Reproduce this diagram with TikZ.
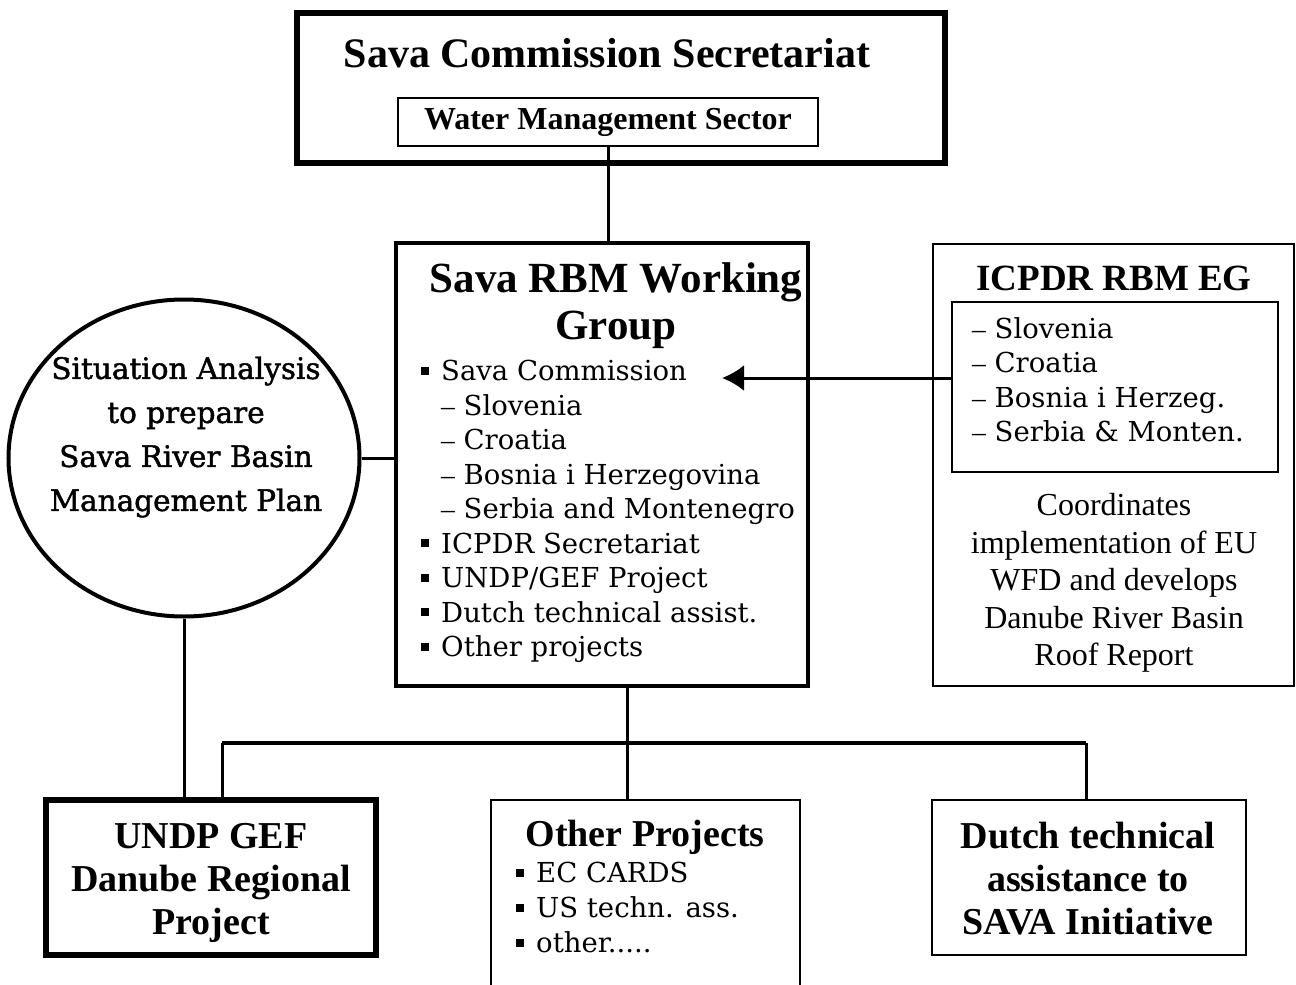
\documentclass[tikz,border=0pt]{standalone}
\usepackage{fontspec}
\setmainfont{Liberation Serif}
\newfontfamily\listfont{DejaVu Serif}
\newfontfamily\circlefont[FakeBold=1.5]{DejaVu Serif}
\usetikzlibrary{shapes,arrows.meta}
\tikzstyle{block} = [draw, rectangle, inner sep=0pt]
\tikzstyle{heavy} = [block, line width=6pt]
\tikzstyle{medium} = [block, line width=4pt]
\tikzstyle{light} = [block, line width=2pt]
\tikzstyle{line} = [draw, line width=3pt]
\tikzstyle{title} = [inner sep=0pt, align=center, font=\bfseries\fontsize{38}{43}\selectfont]
\tikzstyle{list} = [inner sep=0pt, align=left, font=\listfont\fontsize{27.5}{34.5}\selectfont]
\newcommand{\sqbullet}{\raisebox{6pt}{\rule{8pt}{8pt}}\hspace{12pt}}
\newcommand{\dashitem}{\hspace*{20pt}{\rmfamily –}~}

\begin{document}
\begin{tikzpicture}[x=1pt, y=-1pt, >={Latex[length=22pt,width=26pt]}]
          \useasboundingbox (0,0) rectangle (1296,985);
          \clip (0,0) rectangle (1296,985);

          % Top: commission secretariat
          \node [heavy, minimum width=648, minimum height=150] (secretariat) at (621,88) {};
          \node [title, font=\bfseries\fontsize{42}{48}\selectfont] (sectitle) at (607,53) {Sava Commission Secretariat};
          \node [light, minimum width=420, minimum height=48, font=\bfseries\fontsize{32}{36}\selectfont] (wms) at (608,122) {Water Management Sector};

          % Working group
          \node [medium, minimum width=412, minimum height=443] (wg) at (602,464.5) {};
          \node [title, font=\bfseries\fontsize{43}{47}\selectfont] (wgtitle) at (616,306) {Sava RBM Working\\Group};
          \node [list, anchor=north west] (wglist) at (421,360) {\sqbullet Sava Commission\\
            \dashitem Slovenia\\
            \dashitem Croatia\\
            \dashitem Bosnia i Herzegovina\\
            \dashitem Serbia and Montenegro\\
            \sqbullet ICPDR Secretariat\\
            \sqbullet UNDP/GEF Project\\
            \sqbullet Dutch technical assist.\\
            \sqbullet Other projects};

          % Situation analysis
          \node [draw, ellipse, line width=4pt, minimum width=351, minimum height=317] (analysis) at (184,458) {};
          \node [list, align=center, font=\circlefont\fontsize{29.5}{44}\selectfont] (analysistext) at (186,437) {Situation Analysis\\to prepare\\Sava River Basin\\Management Plan};

          % ICPDR expert group
          \node [light, minimum width=361, minimum height=442] (icpdr) at (1113.5,465) {};
          \node [title, font=\bfseries\fontsize{37}{42}\selectfont] (icpdrtitle) at (1114,278) {ICPDR RBM EG};
          \node [light, minimum width=326, minimum height=170] (icpdrlist) at (1115,387) {};
          \node [list, anchor=north west] (icpdrnames) at (972,317) {{\rmfamily –}~Slovenia\\{\rmfamily –}~Croatia\\{\rmfamily –}~Bosnia i Herzeg.\\{\rmfamily –}~Serbia \& Monten.};
          \node [inner sep=0pt, align=center, font=\fontsize{32}{37.5}\selectfont] (icpdrnote) at (1114,583) {Coordinates\\implementation of EU\\WFD and develops\\Danube River Basin\\Roof Report};

          % Projects
          \node [heavy, minimum width=330, minimum height=155] (undp) at (211,877.5) {};
          \node [title] (undptext) at (211,883) {UNDP GEF\\Danube Regional\\Project};
          \node [light, minimum width=309, minimum height=200] (other) at (645.5,900) {};
          \node [title] (othertitle) at (645,837) {Other Projects};
          \node [list, anchor=north west, font=\listfont\fontsize{27.5}{35}\selectfont] (otherlist) at (516,862) {\sqbullet EC CARDS\\\sqbullet US techn. ass.\\\sqbullet other.....};
          \node [light, minimum width=314, minimum height=155] (dutch) at (1089,877.5) {};
          \node [title] (dutchtext) at (1088,879) {Dutch technical\\assistance to\\SAVA Initiative};

          % Connections
          \coordinate (arrowtip) at (722,378);
          \coordinate (busleft) at (222,743);
          \coordinate (busmid) at (627,743);
          \coordinate (busright) at (1086,743);
          \draw [line] (wms.south) -- (wms.south |- wg.north);
          \draw [line] (analysis.east) -- (wg.west |- analysis.east);
          \draw [line, ->] (icpdrlist.west |- arrowtip) -- (arrowtip);
          \draw [line] (analysis.south) -- (analysis.south |- undp.north);
          \draw [line] (busmid |- wg.south) -- (busmid |- other.north);
          \draw [line, line width=4pt] (busleft) -- (busright);
          \draw [line] (busleft) -- (busleft |- undp.north);
          \draw [line] (busright) -- (busright |- dutch.north);
      \end{tikzpicture}
\end{document}
